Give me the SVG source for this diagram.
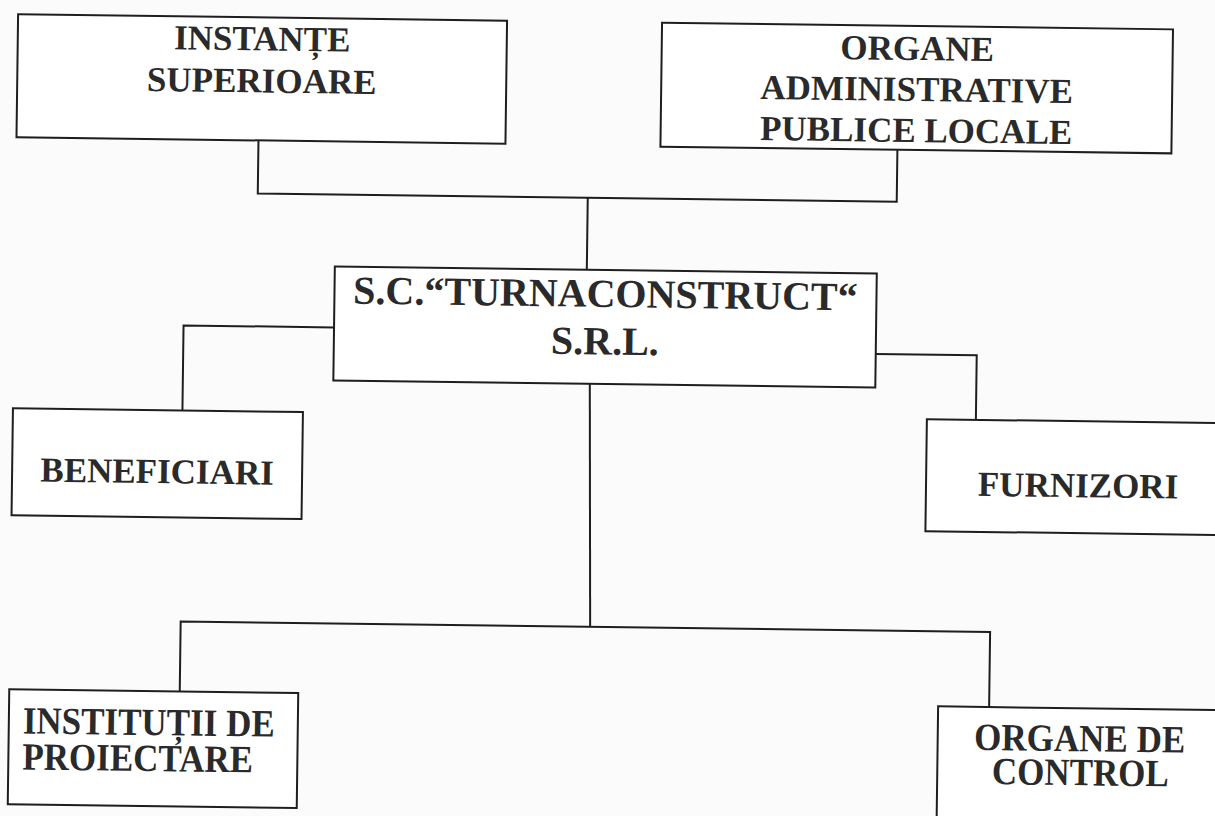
<svg xmlns="http://www.w3.org/2000/svg" width="1215" height="816" viewBox="0 0 1215 816">
<style>
.box{fill:#ffffff;stroke:#1e1e1e;stroke-width:2}
.lbl{font-family:"Liberation Serif","Times New Roman",serif;font-weight:bold;font-size:35px;fill:#2a2a2a;text-anchor:middle}
.left{text-anchor:start}
.big{font-size:40px}
.conn{fill:none;stroke:#1e1e1e;stroke-width:2}
</style>
<rect x="0" y="0" width="1215" height="816" fill="#fbfbfb"/>
<g transform="rotate(0.75 607 408)">
<g id="connectors">
<path class="conn" d="M255,145 V198 H894 V146"/>
<path class="conn" d="M585,198 V270"/>
<path class="conn" d="M333,331 H182.5 V428"/>
<path class="conn" d="M875,350.5 H976 V415"/>
<path class="conn" d="M589.5,384 L593,627"/>
<path class="conn" d="M183.5,698 V627 H993 V702"/>
</g>
<g id="instante-superioare">
<rect class="box" x="13" y="22" width="489" height="123"/>
<text class="lbl" x="257.5" y="55">INSTANȚE</text>
<text class="lbl" x="257.5" y="97">SUPERIOARE</text>
</g>
<g id="organe-administrative">
<rect class="box" x="657" y="22" width="511" height="124"/>
<text class="lbl" x="912.5" y="56">ORGANE</text>
<text class="lbl" x="912.5" y="97">ADMINISTRATIVE</text>
<text class="lbl" x="912.5" y="138">PUBLICE LOCALE</text>
</g>
<g id="turnaconstruct">
<rect class="box" x="333" y="270" width="542" height="114"/>
<text class="lbl big" x="604" y="307">S.C.“TURNACONSTRUCT“</text>
<text class="lbl big" x="604" y="354.5">S.R.L.</text>
</g>
<g id="beneficiari">
<rect class="box" x="13" y="416" width="290" height="107"/>
<text class="lbl" x="158" y="489">BENEFICIARI</text>
</g>
<g id="furnizori">
<rect class="box" x="927" y="415" width="304" height="112"/>
<text class="lbl" x="1079" y="491">FURNIZORI</text>
</g>
<g id="institutii-proiectare">
<rect class="box" x="13" y="697" width="289" height="115"/>
<text class="lbl left" transform="translate(27 741) scale(1 1.1)">INSTITUȚII DE</text>
<text class="lbl left" transform="translate(27 777) scale(1 1.1)">PROIECTARE</text>
</g>
<g id="organe-control">
<rect class="box" x="942" y="702" width="286" height="150"/>
<text class="lbl" transform="translate(1084 745) scale(1 1.1)">ORGANE DE</text>
<text class="lbl" transform="translate(1085 779) scale(1 1.1)">CONTROL</text>
</g>
</g>
</svg>
